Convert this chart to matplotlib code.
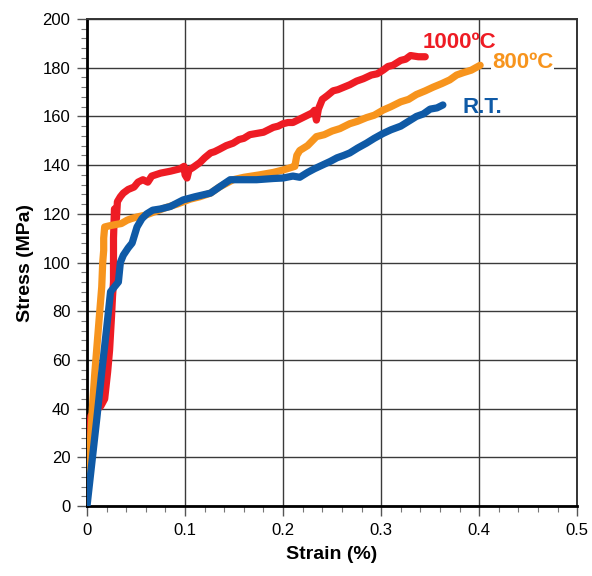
import matplotlib
matplotlib.use("Agg")
import matplotlib.pyplot as plt
from matplotlib.ticker import MultipleLocator

plt.rcParams['font.family'] = ['Liberation Sans', 'DejaVu Sans']

# 1000 C curve
red_x = [0.000, 0.001, 0.002, 0.004, 0.008, 0.014, 0.018, 0.021, 0.023, 0.025, 0.026, 0.027, 0.027,
         0.028, 0.030, 0.031, 0.034, 0.037, 0.042, 0.048, 0.052, 0.057, 0.062, 0.066, 0.075, 0.085,
         0.095, 0.099, 0.100, 0.102, 0.104, 0.108, 0.115, 0.120, 0.126, 0.130, 0.135, 0.142, 0.149,
         0.155, 0.160, 0.166, 0.173, 0.180, 0.185, 0.190, 0.195, 0.200, 0.205, 0.210, 0.215, 0.220,
         0.225, 0.230, 0.232, 0.234, 0.236, 0.238, 0.240, 0.245, 0.251, 0.256, 0.262, 0.268, 0.275,
         0.282, 0.290, 0.296, 0.302, 0.307, 0.312, 0.316, 0.320, 0.325, 0.330, 0.338, 0.345]
red_y = [14, 26, 30, 37, 39, 41, 44, 55, 64, 78, 86, 92, 110,
         122, 118, 125, 127, 128.5, 130, 131, 133, 134, 133, 135.5, 136.7, 137.5,
         138.5, 139.5, 136, 134.7, 138, 139, 141, 143, 145, 145.5, 146.5, 148, 149,
         150.5, 151, 152.5, 153, 153.5, 154.5, 155.5, 156, 157, 157.5, 157.5, 158.5, 159.5,
         160.5, 161.5, 162.5, 158.5, 163, 165, 167, 168.5, 170.5, 171, 172, 173, 174.5,
         175.5, 177, 177.5, 179, 180.5, 181, 182, 183, 183.5, 185, 184.5, 184.5]

# 800 C curve
orange_x = [0.000, 0.002, 0.004, 0.006, 0.008, 0.010, 0.013, 0.015, 0.016, 0.017, 0.017, 0.018,
            0.022, 0.028, 0.035, 0.041, 0.045, 0.051, 0.060, 0.070, 0.080, 0.092, 0.105, 0.115,
            0.126, 0.135, 0.149, 0.160, 0.176, 0.190, 0.200, 0.208, 0.212, 0.214, 0.217, 0.225,
            0.234, 0.242, 0.250, 0.258, 0.268, 0.276, 0.285, 0.293, 0.302, 0.310, 0.320, 0.328,
            0.336, 0.345, 0.353, 0.362, 0.370, 0.377, 0.384, 0.392, 0.401]
orange_y = [5, 15, 30, 43.5, 55, 65, 80, 90, 100, 105, 110, 114.6,
            115, 115.5, 116, 117.4, 118, 118.7, 119.5, 121, 122.5, 124, 126, 127,
            128.5, 131, 134, 135, 136, 137, 138, 139, 139.5, 144, 146, 148,
            151.7, 152.5, 154, 155, 157, 158, 159.5, 160.5, 162.6, 164, 166, 167,
            169, 170.5, 172, 173.5, 175, 177, 178, 179, 181]

# Room temperature curve
blue_x = [0.000, 0.005, 0.010, 0.015, 0.020, 0.024, 0.028, 0.032, 0.034, 0.037, 0.042, 0.046,
          0.051, 0.056, 0.061, 0.067, 0.075, 0.085, 0.098, 0.110, 0.126, 0.135, 0.146, 0.160,
          0.173, 0.190, 0.200, 0.210, 0.217, 0.225, 0.232, 0.240, 0.248, 0.255, 0.262, 0.268,
          0.276, 0.285, 0.293, 0.302, 0.310, 0.320, 0.328, 0.336, 0.343, 0.350, 0.357, 0.363]
blue_y = [0, 18, 36, 55, 73, 88, 90, 92, 100, 103, 106, 108,
          114.6, 118, 120, 121.5, 122, 123, 125.7, 127, 128.5, 131, 134, 134,
          134, 134.5, 134.7, 135.5, 135, 137, 138.5, 140, 141.5, 143, 144, 145,
          147, 149, 151, 153, 154.5, 156, 158, 160, 161, 163, 163.5, 164.7]

labels = ["1000\u00baC", "800\u00baC", "R.T."]
label_x = [0.342, 0.413, 0.383]
label_y = [190.5, 182, 163.5]

c_red = '#ee1c24'
c_orange = '#f7941d'
c_blue = '#0f5aa6'

fig = plt.figure(figsize=(5.92, 5.76), dpi=100)
ax = fig.add_axes([0.147, 0.1215, 0.828, 0.8455])

lw = 5.2
ax.plot(red_x, red_y, color=c_red, lw=lw, solid_joinstyle='round', solid_capstyle='round', zorder=3)
ax.plot(orange_x, orange_y, color=c_orange, lw=lw, solid_joinstyle='round', solid_capstyle='round', zorder=4)
ax.plot(blue_x, blue_y, color=c_blue, lw=lw, solid_joinstyle='round', solid_capstyle='round', zorder=5)

ax.text(label_x[0], label_y[0], labels[0], color=c_red, fontsize=16, fontweight='bold', va='center', ha='left', zorder=6)
ax.text(label_x[1], label_y[1], labels[1], color=c_orange, fontsize=16, fontweight='bold', va='center', ha='left', zorder=6,
        bbox=dict(facecolor='white', edgecolor='none', pad=1))
ax.text(label_x[2], label_y[2], labels[2], color=c_blue, fontsize=16, fontweight='bold', va='center', ha='left', zorder=6)

ax.set_xlim(0, 0.5)
ax.set_ylim(0, 200)
ax.xaxis.set_minor_locator(MultipleLocator(0.02))
ax.yaxis.set_major_locator(MultipleLocator(20))
ax.yaxis.set_minor_locator(MultipleLocator(4))
ax.set_xticks([0, 0.1, 0.2, 0.3, 0.4, 0.5])
ax.set_xticklabels(['0', '0.1', '0.2', '0.3', '0.4', '0.5'])

ax.grid(True, which='major', color='#3a3a3a', lw=1.0, zorder=1)
ax.tick_params(axis='both', which='major', direction='out', length=7, width=1, color='#555555', labelsize=12, pad=5)
ax.tick_params(axis='both', which='minor', direction='out', length=4, width=0.8, color='#777777')

for side in ['left', 'bottom']:
    ax.spines[side].set_linewidth(2.0)
    ax.spines[side].set_color('black')
for side in ['top', 'right']:
    ax.spines[side].set_linewidth(1.4)
    ax.spines[side].set_color('#333333')

ax.set_xlabel('Strain (%)', fontsize=14, fontweight='bold', labelpad=6)
ax.set_ylabel('Stress (MPa)', fontsize=14, fontweight='bold', labelpad=6)

fig.savefig('out.png', dpi=100)
